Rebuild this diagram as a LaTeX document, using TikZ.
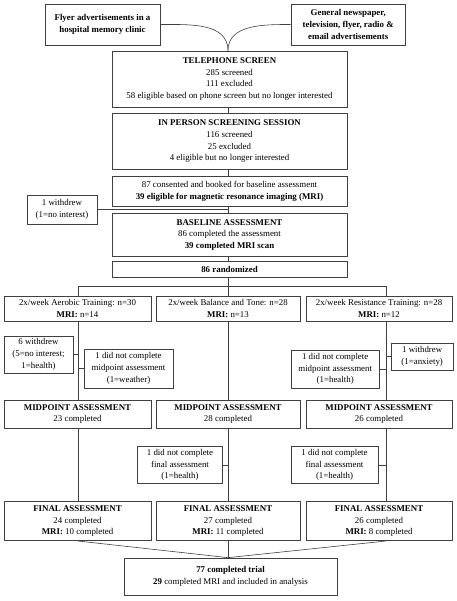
\documentclass[tikz,border=0pt]{standalone}
\usepackage{fontspec}
\setmainfont{Liberation Serif}
\usepackage{tikz}

\tikzset{
  box/.style={draw=black!75, line width=0.6bp, fill=white, align=center,
    inner sep=1bp, font=\fontsize{8.9}{11.7}\selectfont},
  sz/.style 2 args={minimum width=#1bp, minimum height=#2bp},
  link/.style={draw=black!75, line width=0.6bp}
}

\begin{document}
\begin{tikzpicture}[x=1bp,y=-1bp]
  \useasboundingbox (0,0) rectangle (457,601);
  \node[box,sz={115}{41}] (flyer) at (102.5,24.5)
    {\textbf{Flyer advertisements in a}\\\textbf{hospital memory clinic}};
  \node[box,sz={114.5}{41}] (media) at (348.2,24.5)
    {\textbf{General newspaper,}\\\textbf{television, flyer, radio \&}\\\textbf{email advertisements}};
  \node[box,sz={235}{56}] (phone) at (229.5,79)
    {\textbf{TELEPHONE SCREEN}\\285 screened\\111 excluded\\58 eligible based on phone screen but no longer interested};
  \node[box,sz={235}{56}] (inperson) at (229.5,141.3)
    {\textbf{IN PERSON SCREENING SESSION}\\116 screened\\25 excluded\\4 eligible but no longer interested};
  \node[box,sz={235}{30.7}] (consent) at (229.5,191.3)
    {87 consented and booked for baseline assessment\\\textbf{39 eligible for magnetic resonance imaging (MRI)}};
  \node[box,sz={70}{29}] (wdbase) at (62,209.5)
    {1 withdrew\\(1=no interest)};
  \node[box,sz={235}{42.7}] (baseline) at (229.5,234.7)
    {\textbf{BASELINE ASSESSMENT}\\86 completed the assessment\\\textbf{39 completed MRI scan}};
  \node[box,sz={235}{16}] (random) at (229.5,269.7)
    {\textbf{86 randomized}};

  \node[box,sz={147}{25}] (aero) at (77.5,308.5)
    {2x/week Aerobic Training: n=30\\\textbf{MRI:} n=14};
  \node[box,sz={144}{25}] (bal) at (228,308.5)
    {2x/week Balance and Tone: n=28\\\textbf{MRI:} n=13};
  \node[box,sz={146}{25}] (resist) at (379,308.5)
    {2x/week Resistance Training: n=28\\\textbf{MRI:} n=12};

  \node[box,sz={69}{37}] (wdaero) at (38.5,354.5)
    {6 withdrew\\(5=no interest;\\1=health)};
  \node[box,sz={89}{39}] (missaero) at (128.5,368.5)
    {1 did not complete\\midpoint assessment\\(1=weather)};
  \node[box,sz={87.5}{38}] (missres) at (335.2,369)
    {1 did not complete\\midpoint assessment\\(1=health)};
  \node[box,sz={61.5}{27}] (wdres) at (422.2,356.5)
    {1 withdrew\\(1=anxiety)};

  \node[box,sz={147}{28}] (midaero) at (77.5,414)
    {\textbf{MIDPOINT ASSESSMENT}\\23 completed};
  \node[box,sz={144}{28}] (midbal) at (228,414)
    {\textbf{MIDPOINT ASSESSMENT}\\28 completed};
  \node[box,sz={146}{28}] (midres) at (379,414)
    {\textbf{MIDPOINT ASSESSMENT}\\26 completed};

  \node[box,sz={85}{37.5}] (missbalfin) at (180,465)
    {1 did not complete\\final assessment\\(1=health)};
  \node[box,sz={87}{37.5}] (missresfin) at (334.5,465)
    {1 did not complete\\final assessment\\(1=health)};

  \node[box,sz={147}{39}] (finaero) at (77.5,521.2)
    {\textbf{FINAL ASSESSMENT}\\24 completed\\\textbf{MRI:} 10 completed};
  \node[box,sz={144}{39}] (finbal) at (228,521.2)
    {\textbf{FINAL ASSESSMENT}\\27 completed\\\textbf{MRI:} 11 completed};
  \node[box,sz={146}{39}] (finres) at (379,521.2)
    {\textbf{FINAL ASSESSMENT}\\26 completed\\\textbf{MRI:} 8 completed};

  \node[box,sz={213}{37.5}] (done) at (230.5,576.7)
    {\textbf{77 completed trial}\\\textbf{29} completed MRI and included in analysis};

  \coordinate (mid) at (228,0);
  \coordinate (aline) at (78,0);
  \coordinate (rline) at (386,0);
  \coordinate (split) at (228,286.5);

  \draw[link]
    (flyer.east)
    to[out=0,in=90]
    (phone.north -| mid);
  \draw[link]
    (media.west)
    to[out=180,in=90]
    (phone.north -| mid);
  \draw[link]
    (phone.south -| mid)
    --
    (inperson.north -| mid);
  \draw[link]
    (inperson.south -| mid)
    --
    (consent.north -| mid);
  \draw[link]
    (consent.south -| mid)
    --
    (baseline.north -| mid);
  \draw[link]
    (wdbase.east)
    --
    (wdbase.east -| mid);
  \draw[link]
    (baseline.south -| mid)
    --
    (random.north -| mid);
  \draw[link]
    (random.south -| mid)
    --
    (split);
  \draw[link]
    (aero.north -| aline)
    |-
    (split)
    -|
    (resist.north -| rline);
  \draw[link]
    (split)
    --
    (bal.north);

  \draw[link]
    (aero.south -| aline)
    --
    (midaero.north -| aline);
  \draw[link]
    (midaero.south -| aline)
    --
    (finaero.north -| aline);
  \draw[link]
    (bal.south)
    --
    (midbal.north);
  \draw[link]
    (midbal.south)
    --
    (finbal.north);
  \draw[link]
    (resist.south -| rline)
    --
    (midres.north -| rline);
  \draw[link]
    (midres.south -| rline)
    --
    (finres.north -| rline);

  \draw[link]
    (wdaero.east)
    --
    (wdaero.east -| aline);
  \draw[link]
    (missaero.west)
    --
    (missaero.west -| aline);
  \draw[link]
    (missres.east)
    --
    (missres.east -| rline);
  \draw[link]
    (wdres.west)
    --
    (wdres.west -| rline);
  \draw[link]
    (missbalfin.east)
    --
    (missbalfin.east -| mid);
  \draw[link]
    (missresfin.east)
    --
    (missresfin.east -| rline);

  \draw[link]
    (finaero.south -| aline)
    --
    (done.north -| mid);
  \draw[link]
    (finbal.south)
    --
    (done.north -| mid);
  \draw[link]
    (finres.south -| rline)
    --
    (done.north -| mid);
\end{tikzpicture}
\end{document}
